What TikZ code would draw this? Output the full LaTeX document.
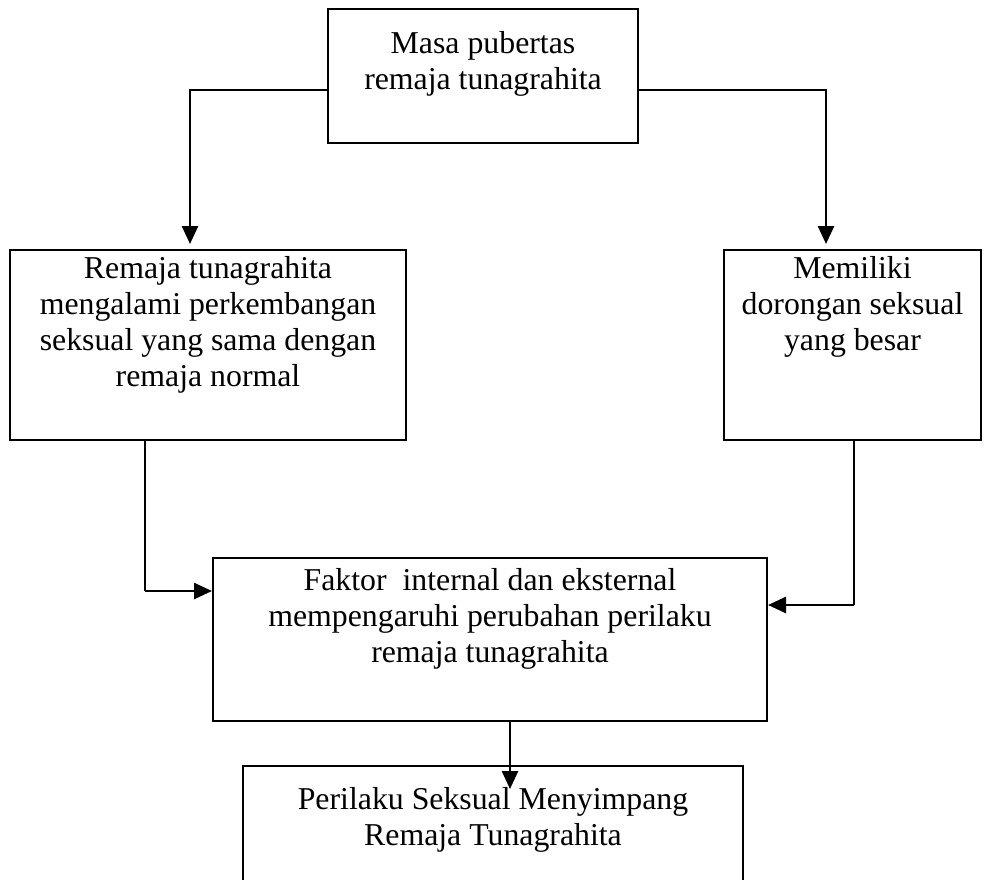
\documentclass[tikz,border=0pt]{standalone}
\usepackage{fontspec}
\setmainfont{Liberation Serif}
\usetikzlibrary{arrows.meta}
\begin{document}
\begin{tikzpicture}[x=1pt,y=-1pt,
  box/.style={draw, line width=2pt, rectangle, inner sep=0pt},
  txt/.style={align=center, inner sep=0pt, anchor=north, font=\fontsize{31.8}{36}\selectfont},
  arr/.style={line width=2.6pt, -{Triangle[length=18pt,width=16pt]}},
  thinline/.style={line width=1.8pt}]
\useasboundingbox (0,0) rectangle (992,879);
\begin{scope}
\clip (0,0) rectangle (992,879);
\node[box, minimum width=310pt, minimum height=134pt] (top) at (483,76) {};
\node[box, minimum width=396pt, minimum height=190pt] (left) at (208,345) {};
\node[box, minimum width=257pt, minimum height=190pt] (right) at (852.5,345) {};
\node[box, minimum width=554pt, minimum height=163pt] (mid) at (490,639.5) {};
\node[box, minimum width=500pt, minimum height=140pt] (bot) at (493,836) {};
\end{scope}
\node[txt] (ttop) at ([yshift=-23pt]top.north) {Masa pubertas\\remaja tunagrahita};
\node[txt] (tleft) at ([yshift=-7pt]left.north) {Remaja tunagrahita\\mengalami perkembangan\\seksual yang sama dengan\\remaja normal};
\node[txt] (tright) at ([yshift=-7pt]right.north) {Memiliki\\dorongan seksual\\yang besar};
\node[txt] (tmid) at ([yshift=-11pt]mid.north) {Faktor\ \ internal dan eksternal\\mempengaruhi perubahan perilaku\\remaja tunagrahita};
\node[txt] (tbot) at ([yshift=-22pt]bot.north) {Perilaku Seksual Menyimpang\\Remaja Tunagrahita};
\draw[arr] ([yshift=-14pt]top.west) -| ([xshift=-18pt,yshift=5pt]left.north);
\draw[arr] ([yshift=-14pt]top.east) -| ([xshift=-26.5pt,yshift=5pt]right.north);
\path ([xshift=-63pt]left.south) coordinate (lstart);
\path ([yshift=48.5pt]mid.west) coordinate (lend);
\coordinate (lbend) at (lstart |- lend);
\draw[thinline] (lstart) -- (lbend);
\draw[arr] (lbend) -- (lend);
\path ([xshift=1.5pt]right.south) coordinate (rstart);
\path ([yshift=34.5pt]mid.east) coordinate (rend);
\coordinate (rbend) at (rstart |- rend);
\draw[thinline] (rstart) -- (rbend);
\draw[arr] (rbend) -- (rend);
\draw[arr] ([xshift=20pt]mid.south) -- ([xshift=17pt,yshift=-24pt]bot.north);
\end{tikzpicture}
\end{document}
